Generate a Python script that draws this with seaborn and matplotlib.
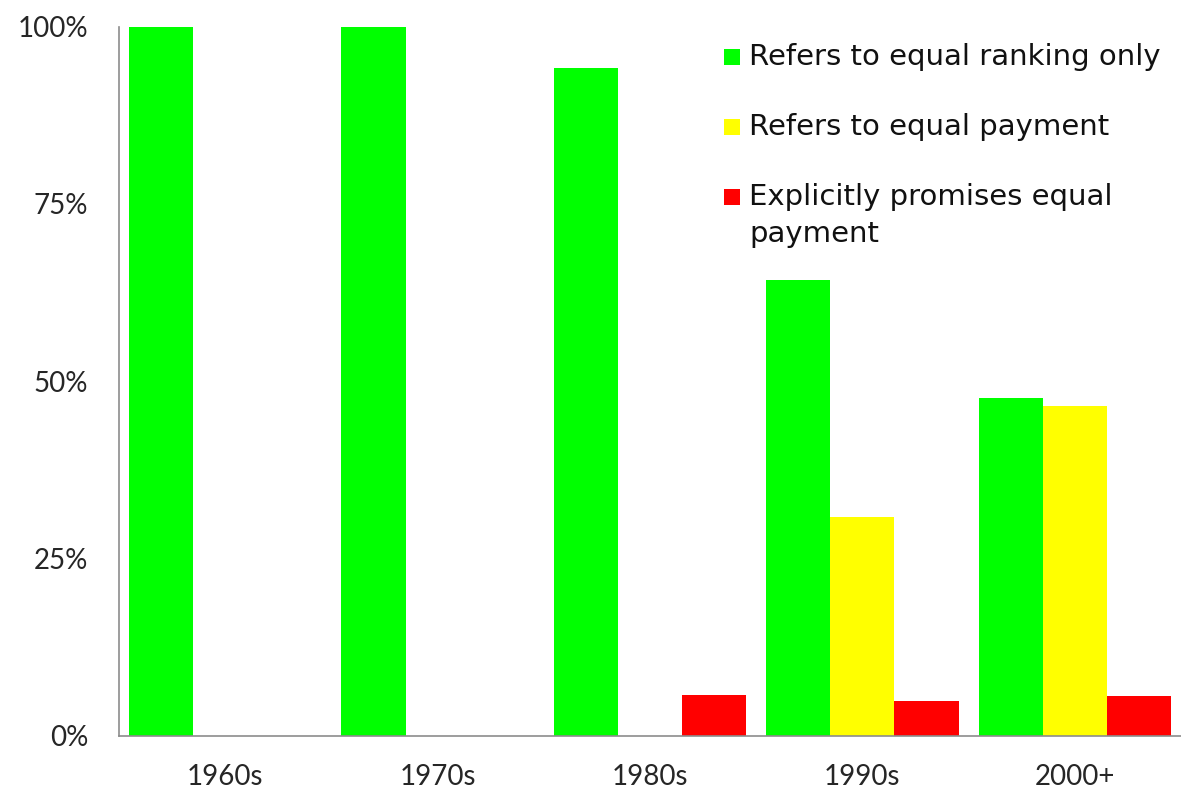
import matplotlib
matplotlib.use("Agg")
import matplotlib.pyplot as plt
from matplotlib.patches import Rectangle
from matplotlib.ticker import FuncFormatter
import seaborn as sns
import pandas as pd

# Share of documents per decade, by type of equality statement
decades = ["1960s", "1970s", "1980s", "1990s", "2000+"]
series = ["Refers to equal ranking only",
          "Refers to equal payment",
          "Explicitly promises equal\npayment"]
ranking_only = [100.0, 100.0, 94.1, 64.3, 47.6]
equal_payment = [0.0, 0.0, 0.0, 30.9, 46.5]
promises_payment = [0.0, 0.0, 5.8, 4.9, 5.7]
colors = ["#00FF00", "#FFFF00", "#FF0000"]

rows = []
for name, vals in zip(series, [ranking_only, equal_payment, promises_payment]):
    for d, v in zip(decades, vals):
        rows.append({"decade": d, "series": name, "share": v / 100.0})
df = pd.DataFrame(rows)

sns.set_theme(style="white")
plt.rcParams["font.family"] = ["Lato", "DejaVu Sans"]

fig = plt.figure(figsize=(11.81, 8.0), dpi=100)
ax = fig.add_axes([119 / 1181, 64 / 800, 1062 / 1181, 709.5 / 800])

sns.barplot(data=df, x="decade", y="share", hue="series", order=decades,
            hue_order=series, palette=colors, saturation=1, width=0.906,
            gap=0, linewidth=0, errorbar=None, legend=False, ax=ax)

ax.set_xlim(-0.5, 4.5)
ax.set_ylim(0, 1)
ax.set_yticks([0, 0.25, 0.5, 0.75, 1.0])
ax.yaxis.set_major_formatter(FuncFormatter(lambda v, _: f"{v * 100:.0f}%"))
ax.set_xlabel("")
ax.set_ylabel("")
ax.tick_params(axis="y", length=0, pad=22, labelsize=20, labelcolor="#262626")
ax.tick_params(axis="x", length=0, pad=20, labelsize=20, labelcolor="#262626")
for s in ["top", "right"]:
    ax.spines[s].set_visible(False)
for s in ["left", "bottom"]:
    ax.spines[s].set_color("#8c8c8c")
    ax.spines[s].set_linewidth(1.2)

# Legend drawn in figure pixel space: square swatch beside the first line
# of each label, further lines stacked below it
W, H = 1181, 800
row_baselines = [65, 135, 205]
line_step = 37
for base, label, col in zip(row_baselines, series, colors):
    fig.patches.append(Rectangle((724 / W, 1 - base / H), 16 / W, 16 / H,
                                 transform=fig.transFigure, facecolor=col,
                                 edgecolor="none"))
    for i, line in enumerate(label.split("\n")):
        fig.text(749 / W, 1 - (base + i * line_step) / H, line,
                 ha="left", va="baseline", fontsize=21, color="#111111",
                 family="DejaVu Sans")

fig.savefig("out.png", dpi=100)
